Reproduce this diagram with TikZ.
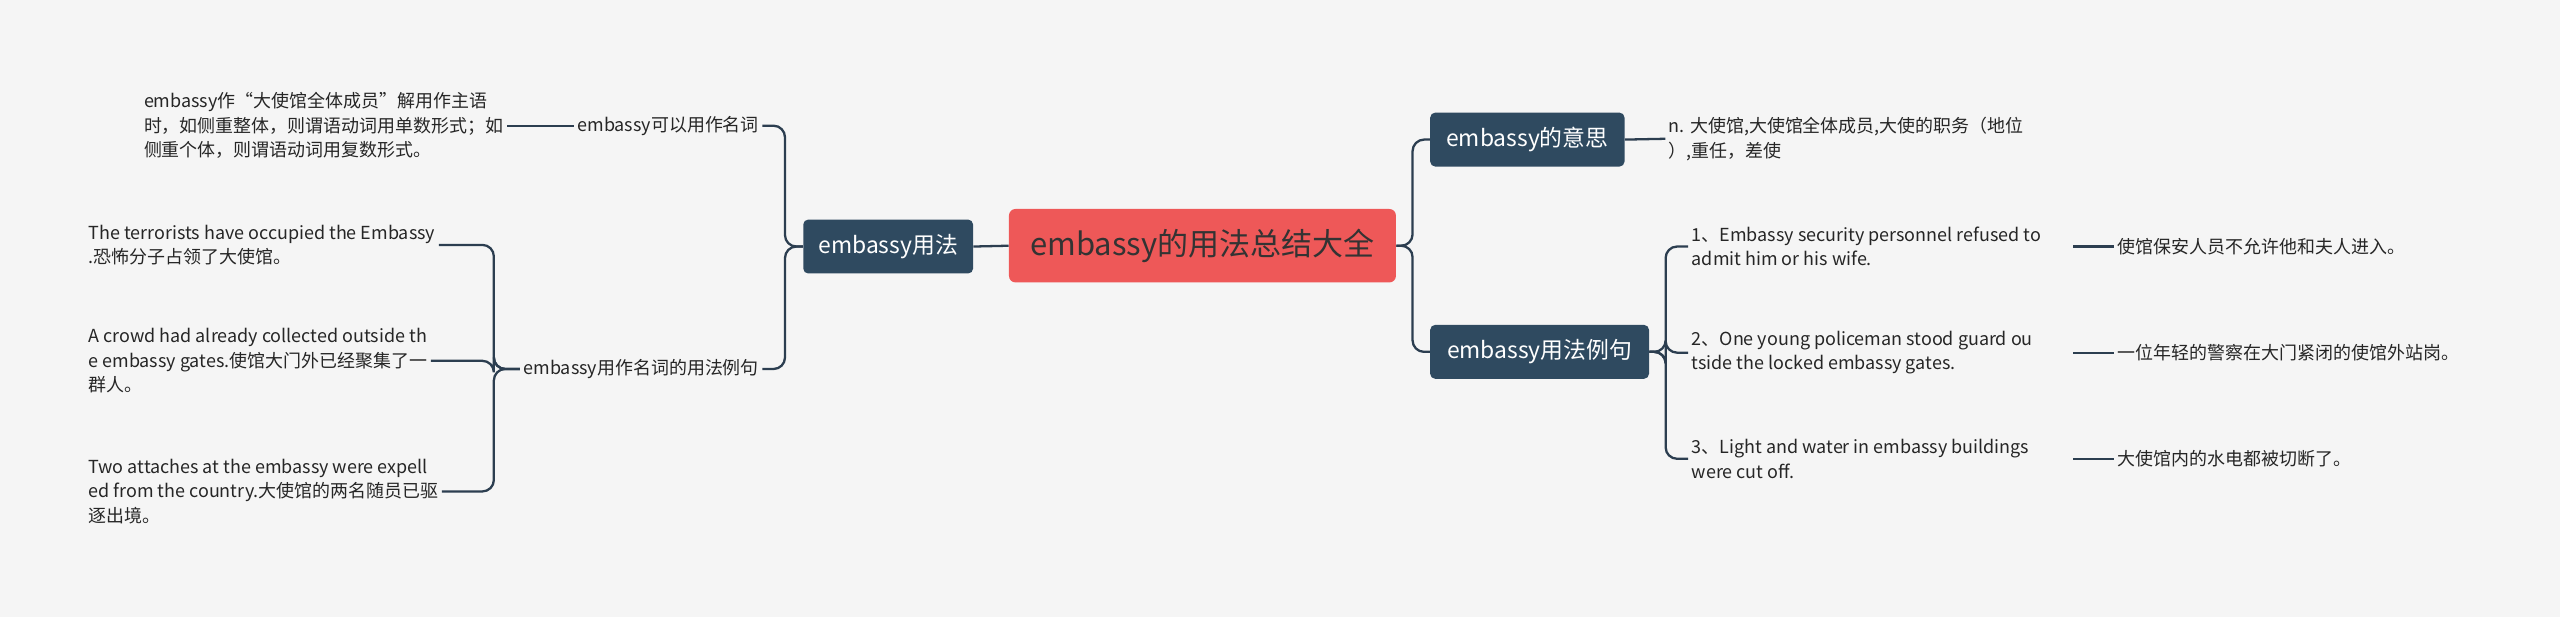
\documentclass[tikz,border=0pt]{standalone}
\usepackage{fontspec}
\setmainfont{Noto Sans CJK SC}
\begin{document}
\begin{tikzpicture}[x=1pt,y=-1pt,
  conn/.style={draw=black!80!blue,line width=1.4pt,rounded corners=7pt},
  dark/.style={fill=black!70!blue!40!cyan!25!black!90,fill=black!75!cyan!30!blue!10,rounded corners=3pt,text=white,font=\fontsize{14}{16}\selectfont,inner xsep=7pt,minimum height=33pt},
  leaf/.style={font=\fontsize{11}{15}\selectfont,text=black!85,align=left,inner sep=2pt}]
\definecolor{nd}{HTML}{2F4A60}
\definecolor{ln}{HTML}{2C3E50}
\tikzset{dark/.append style={fill=nd},conn/.append style={draw=ln}}
\fill[black!4] (0,0) rectangle (1568,378);
\node[fill=red!60!orange!75!white,fill={rgb,255:red,238;green,88;blue,88},rounded corners=4pt,minimum width=237pt,minimum height=45pt,font=\fontsize{19}{22}\selectfont,text=black!80] (c) at (736.5,150.5) {embassy的用法总结大全};
\node[dark,minimum width=104pt] (u) at (544,151) {embassy用法};
\node[dark,minimum width=119pt] (m) at (935.5,85.5) {embassy的意思};
\node[dark,minimum width=134pt] (e) at (943,215.5) {embassy用法例句};
\node[leaf,anchor=east] (l1) at (467,77) {embassy可以用作名词};
\node[leaf,anchor=east] (l2) at (467,226) {embassy用作名词的用法例句};
\node[leaf,anchor=west] (t1) at (86,77) {embassy作“大使馆全体成员”解用作主语\\时，如侧重整体，则谓语动词用单数形式；如\\侧重个体，则谓语动词用复数形式。};
\node[leaf,anchor=west] (s1) at (52,150) {The terrorists have occupied the Embassy\\.恐怖分子占领了大使馆。};
\node[leaf,anchor=west] (s2) at (52,221) {A crowd had already collected outside th\\e embassy gates.使馆大门外已经聚集了一\\群人。};
\node[leaf,anchor=west] (s3) at (52,301) {Two attaches at the embassy were expell\\ed from the country.大使馆的两名随员已驱\\逐出境。};
\node[leaf,anchor=west] (mt) at (1020,85) {n. 大使馆,大使馆全体成员,大使的职务（地位\\）,重任，差使};
\node[leaf,anchor=west] (r1) at (1034,151) {1、Embassy security personnel refused to\\ admit him or his wife.};
\node[leaf,anchor=west] (r2) at (1034,216) {2、One young policeman stood guard ou\\tside the locked embassy gates.};
\node[leaf,anchor=west] (r3) at (1034,281) {3、Light and water in embassy buildings\\were cut off.};
\node[leaf,anchor=west] (q1) at (1295,151) {使馆保安人员不允许他和夫人进入。};
\node[leaf,anchor=west] (q2) at (1295,216) {一位年轻的警察在大门紧闭的使馆外站岗。};
\node[leaf,anchor=west] (q3) at (1295,281) {大使馆内的水电都被切断了。};
\draw[conn] (c.west) -- (u.east);
\draw[conn] (u.west) -- ++(-11,0) |- (l1.east);
\draw[conn] (u.west) -- ++(-11,0) |- (l2.east);
\draw[conn] (l1.west) -- (t1.east);
\draw[conn] (l2.west) -- ++(-16,0) |- (s1.east);
\draw[conn] (l2.west) -- ++(-16,0) |- (s2.east);
\draw[conn] (l2.west) -- ++(-16,0) |- (s3.east);
\draw[conn] (c.east) -- ++(10,0) |- (m.west);
\draw[conn] (c.east) -- ++(10,0) |- (e.west);
\draw[conn] (m.east) -- (mt.west);
\draw[conn] (e.east) -- ++(10,0) |- (r1.west);
\draw[conn] (e.east) -- ++(10,0) |- (r2.west);
\draw[conn] (e.east) -- ++(10,0) |- (r3.west);
\draw[conn] (1270,151) -- (q1.west);
\draw[conn] (1270,216) -- (q2.west);
\draw[conn] (1270,281) -- (q3.west);
\end{tikzpicture}
\end{document}
